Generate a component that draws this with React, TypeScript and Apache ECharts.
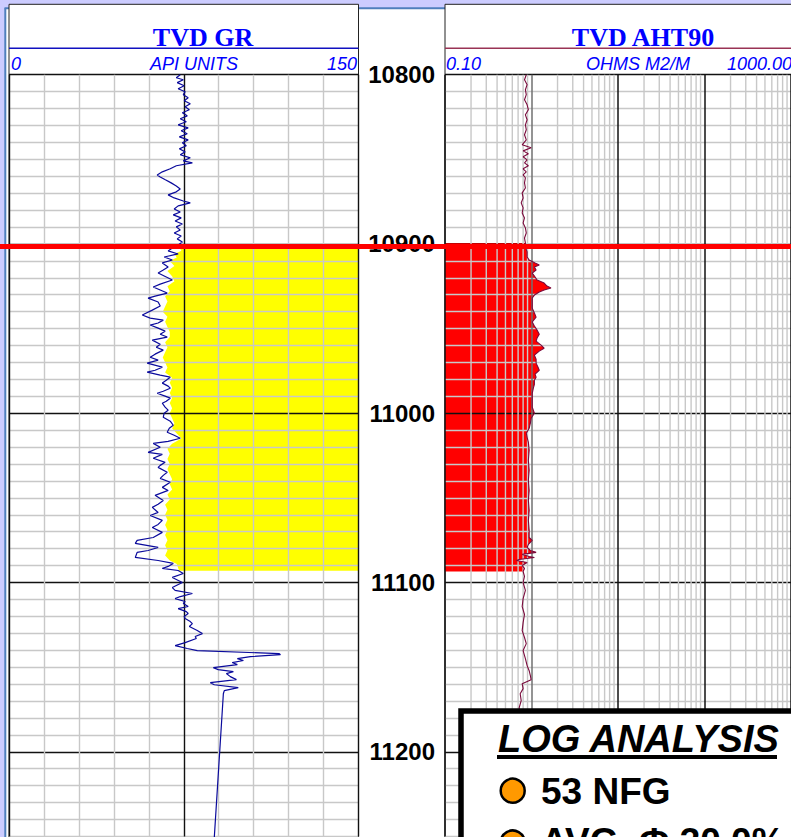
import React, { useEffect, useRef } from 'react';
import * as echarts from 'echarts';

// ---- axes / scales ----
const depthMin = 10800;
const depthMax = 11250;
const depthStep = 10;
const depthLabelEvery = 100;
const grMin = 0;
const grMax = 150;
const grStep = 15;
const rtMin = 0.1;
const rtMax = 1000;
const rtMinorTicks = [
  0.2, 0.3, 0.4, 0.5, 0.6, 0.7, 0.8, 0.9,
  2, 3, 4, 5, 6, 7, 8, 9,
  20, 30, 40, 50, 60, 70, 80, 90,
  200, 300, 400, 500, 600, 700, 800, 900,
];
const redLineDepth = 10901.5;

// ---- header texts ----
const grTitle = 'TVD GR';
const grScale = ['0', 'API UNITS', '150'];
const rtTitle = 'TVD AHT90';
const rtScale = ['0.10', 'OHMS M2/M', '1000.00'];
const boxTitle = 'LOG ANALYSIS';
const boxItems = ['53 NFG', 'AVG. Φ 30.0%'];

// ---- GR curve [depth, API] ----
const grUpper: [number, number][] = [
  [10800.0, 73.5], [10801.8, 71.8], [10803.0, 74.8], [10804.7, 72.2], [10806.5, 75.2], [10808.3, 72.6],
  [10810.1, 75.6], [10811.8, 74.8], [10813.6, 76.9], [10815.4, 75.2], [10817.2, 77.8], [10818.9, 75.6],
  [10820.7, 77.4], [10822.5, 74.4], [10824.3, 76.5], [10826.0, 73.5], [10827.8, 76.1], [10829.6, 72.6],
  [10831.4, 76.9], [10833.1, 73.9], [10834.9, 76.5], [10836.7, 73.1], [10838.5, 76.9], [10840.2, 74.4],
  [10842.0, 76.1], [10843.8, 73.1], [10845.6, 75.6], [10847.3, 73.5], [10849.1, 77.8], [10850.9, 74.8],
  [10852.1, 78.7], [10853.8, 71.8], [10855.6, 69.2], [10857.4, 65.8], [10859.2, 63.6], [10860.4, 64.9],
  [10862.1, 67.1], [10863.9, 69.6], [10865.7, 71.8], [10867.5, 73.5], [10869.2, 71.8], [10871.0, 68.3],
  [10872.8, 70.9], [10874.6, 74.8], [10875.7, 77.8], [10877.5, 72.6], [10879.3, 70.9], [10881.1, 73.5],
  [10882.8, 70.5], [10884.6, 73.9], [10886.4, 71.3], [10888.2, 74.4], [10889.9, 71.8], [10891.7, 73.5],
  [10893.5, 70.9], [10895.3, 73.9], [10897.0, 72.2], [10898.8, 74.4], [10900.6, 72.6],
];
const grSand: [number, number][] = [
  [10902.4, 70.1], [10904.1, 68.3], [10905.9, 72.6], [10907.7, 66.6], [10909.5, 70.1], [10911.2, 65.8],
  [10913.6, 68.3], [10915.4, 66.2], [10917.2, 64.0], [10919.5, 67.5], [10921.3, 70.1], [10923.7, 64.9],
  [10925.4, 61.9], [10927.2, 64.9], [10929.0, 67.9], [10930.8, 62.7], [10932.0, 59.7], [10934.3, 64.0],
  [10936.7, 64.9], [10939.1, 61.5], [10942.0, 57.2], [10943.8, 60.6], [10945.0, 66.2], [10946.7, 64.0],
  [10947.9, 60.6], [10949.7, 64.0], [10951.5, 67.0], [10953.3, 64.9], [10955.0, 67.9], [10956.8, 61.5],
  [10959.2, 64.9], [10961.0, 63.2], [10962.7, 66.2], [10965.1, 62.7], [10966.9, 60.6], [10968.6, 64.0],
  [10970.4, 59.3], [10972.8, 65.8], [10974.6, 62.7], [10975.7, 59.3], [10977.5, 64.9], [10978.7, 69.2],
  [10980.5, 67.5], [10982.2, 65.8], [10984.0, 68.3], [10985.2, 69.2], [10987.0, 66.2], [10988.2, 63.6],
  [10989.9, 67.0], [10991.1, 69.2], [10992.9, 67.5], [10994.1, 65.8], [10996.4, 67.0], [10998.2, 68.3],
  [11000.0, 66.6], [11002.4, 66.2], [11004.7, 69.2], [11007.1, 70.5], [11008.9, 68.8], [11011.2, 67.9],
  [11013.0, 70.9], [11014.8, 73.5], [11016.6, 68.3], [11017.8, 61.9], [11020.1, 64.9], [11023.1, 59.7],
  [11024.3, 65.8], [11026.6, 61.9], [11029.0, 67.0], [11030.8, 64.9], [11032.0, 64.0], [11034.9, 67.9],
  [11036.7, 66.2], [11038.5, 64.9], [11040.8, 69.2], [11043.8, 65.8], [11045.6, 68.3], [11048.5, 62.7],
  [11051.5, 66.2], [11053.8, 64.0], [11055.6, 61.5], [11058.6, 64.0], [11060.4, 60.6], [11063.3, 65.8],
  [11065.7, 64.0], [11067.5, 61.5], [11070.4, 65.8], [11073.4, 61.9], [11075.1, 55.0], [11076.9, 54.2],
  [11079.3, 64.0], [11081.1, 59.7], [11082.2, 55.0], [11085.2, 54.2], [11087.0, 64.0], [11088.7, 70.5],
  [11090.5, 68.3], [11091.7, 65.8], [11092.9, 72.6],
];
const grLower: [number, number][] = [
  [11094.7, 74.8], [11097.0, 70.1], [11100.0, 74.4], [11101.8, 71.8], [11103.0, 70.1], [11104.7, 71.3],
  [11106.5, 78.7], [11108.3, 73.5], [11109.5, 71.3], [11111.2, 75.6], [11112.4, 74.8], [11114.2, 76.9],
  [11115.4, 72.6], [11117.2, 76.1], [11118.3, 76.9], [11120.1, 75.2], [11121.3, 75.6], [11123.1, 77.8],
  [11124.3, 78.7], [11126.0, 77.4], [11128.4, 80.8], [11130.2, 83.0], [11131.9, 79.9], [11133.1, 80.4],
  [11135.5, 75.6], [11137.3, 71.3], [11139.0, 76.5], [11140.2, 80.8], [11142.0, 116.0], [11142.6, 116.5],
  [11143.8, 103.6], [11145.0, 98.0], [11146.1, 100.6], [11147.3, 95.8], [11148.5, 98.0], [11150.3, 87.7],
  [11151.5, 89.8], [11152.7, 96.3], [11153.8, 93.3], [11155.6, 95.0], [11157.4, 97.6], [11159.2, 86.4],
  [11160.4, 88.1], [11162.1, 98.4], [11163.9, 92.4], [11165.7, 92.0], [11250.9, 88.1],
];
// left edge of the yellow sand shading [depth, API]
const sandEdge: [number, number][] = [
  [10900, 75], [10902, 73], [10904, 74], [10906, 71], [10908, 72], [10910, 69], [10913, 71], [10916, 68],
  [10919, 70], [10922, 71], [10925, 68], [10928, 69], [10931, 67], [10934, 68], [10937, 67], [10940, 66],
  [10943, 68], [10946, 67], [10949, 68], [10952, 69], [10955, 69], [10958, 67], [10961, 68], [10964, 67],
  [10967, 66], [10970, 67], [10973, 68], [10976, 67], [10979, 70], [10982, 69], [10985, 70], [10988, 69],
  [10991, 70], [10994, 69], [10997, 70], [11000, 69], [11003, 70], [11006, 71], [11009, 70], [11012, 72],
  [11015, 74], [11018, 70], [11021, 68], [11024, 69], [11027, 68], [11030, 69], [11033, 68], [11036, 69],
  [11039, 70], [11042, 69], [11045, 70], [11048, 68], [11051, 69], [11054, 67], [11057, 68], [11060, 67],
  [11063, 68], [11066, 67], [11069, 68], [11072, 67], [11075, 68], [11078, 67], [11081, 68], [11084, 67],
  [11087, 69], [11089, 72], [11093, 73],
];

// ---- AHT90 resistivity curve [depth, ohm-m] ----
const rtUpper: [number, number][] = [
  [10800.0, 0.87], [10803.0, 0.83], [10805.9, 0.89], [10808.9, 0.85], [10811.8, 0.87], [10814.8, 0.83],
  [10817.8, 0.89], [10820.7, 0.92], [10823.7, 0.85], [10826.6, 0.89], [10829.6, 0.85], [10832.5, 0.87],
  [10835.5, 0.83], [10838.5, 0.87], [10841.4, 0.78], [10843.2, 0.99], [10845.0, 0.80], [10846.7, 0.92],
  [10848.5, 0.80], [10850.3, 0.89], [10852.1, 0.83], [10853.8, 0.92], [10855.6, 0.80], [10857.4, 0.87],
  [10859.2, 0.80], [10860.9, 0.85], [10863.9, 0.83], [10866.9, 0.85], [10869.8, 0.78], [10872.8, 0.80],
  [10875.7, 0.76], [10878.7, 0.80], [10881.7, 0.78], [10884.6, 0.83], [10887.6, 0.80], [10890.5, 0.85],
  [10893.5, 0.87], [10896.5, 0.83], [10899.4, 0.85],
];
const rtPay: [number, number][] = [
  [10901.8, 0.85], [10904.7, 0.89], [10907.7, 0.89], [10909.5, 0.94], [10911.2, 1.10], [10912.4, 1.23],
  [10913.6, 1.08], [10915.4, 1.13], [10917.2, 1.02], [10918.9, 1.08], [10921.3, 1.16], [10923.1, 1.40],
  [10924.9, 1.51], [10926.0, 1.68], [10927.2, 1.40], [10928.4, 1.23], [10930.2, 1.08], [10931.9, 1.02],
  [10934.9, 1.02], [10937.9, 1.02], [10940.8, 1.08], [10943.2, 1.13], [10946.1, 1.02], [10948.5, 1.08],
  [10950.9, 1.16], [10953.3, 1.23], [10955.6, 1.16], [10957.4, 1.13], [10959.8, 1.29], [10961.6, 1.40],
  [10963.3, 1.23], [10965.7, 1.08], [10968.1, 1.13], [10970.4, 1.13], [10972.8, 1.19], [10974.6, 1.23],
  [10976.9, 1.10], [10978.7, 1.13], [10980.5, 1.08], [10982.9, 1.08], [10985.2, 1.05], [10988.2, 1.02],
  [10992.3, 1.02], [10996.4, 1.02], [11000.0, 1.08], [11003.0, 0.99], [11005.9, 0.97], [11008.9, 0.94],
  [11011.8, 0.87], [11014.2, 0.89], [11017.2, 0.92], [11021.9, 0.94], [11027.8, 0.92], [11033.7, 0.94],
  [11039.6, 0.92], [11045.6, 0.94], [11051.5, 0.92], [11057.4, 0.94], [11063.3, 0.92], [11069.2, 0.94],
  [11073.4, 0.94], [11075.1, 1.02], [11077.5, 0.92], [11079.3, 0.89], [11081.1, 0.97], [11082.2, 1.13],
  [11083.4, 0.78], [11084.6, 0.94], [11085.2, 1.08], [11086.4, 0.72], [11087.0, 0.67], [11088.2, 0.89],
  [11090.0, 0.78], [11091.7, 0.83], [11093.5, 0.80],
];
const rtLower: [number, number][] = [
  [11096.4, 0.83], [11100.0, 0.80], [11104.7, 0.85], [11109.5, 0.80], [11114.2, 0.78], [11118.9, 0.83],
  [11123.7, 0.80], [11128.4, 0.78], [11132.5, 0.83], [11136.1, 0.87], [11140.2, 0.80], [11145.0, 0.85],
  [11149.1, 0.89], [11152.1, 0.94], [11155.0, 0.97], [11157.4, 0.99], [11159.8, 0.78], [11162.7, 0.80],
  [11165.7, 0.74], [11169.8, 0.76], [11174.0, 0.72], [11181.7, 0.74],
];

const SANS = '"Liberation Sans", Arial, sans-serif';
const SERIF = '"Liberation Serif", "Times New Roman", serif';
const W = 791;
const H = 837;
const GRID_TOP = 74.7;
const GRID_BOTTOM = 0.6;
const GR_LEFT = 9;
const GR_RIGHT_X = 358.5;
const RT_LEFT = 445;

const gray = '#c8c8c8';
const grVColors = [0, 1, 2, 3, 4, 5, 6, 7, 8, 9, 10].map((i) => (i % 5 === 0 ? '#111' : gray));
const depthColors = [0, 1, 2, 3, 4, 5, 6, 7, 8, 9].map((i) => (i === 0 ? '#111' : gray));
const rtDecadeColors = ['#111', '#707070', '#111', '#111', '#111'];

export default function App() {
  const ref = useRef<HTMLDivElement>(null);
  useEffect(() => {
    document.body.style.margin = '0';
    document.body.style.overflow = 'hidden';
    if (!ref.current) return;
    const chart = echarts.init(ref.current, null, { renderer: 'svg' });

    const grAll = [...grUpper, ...grSand, ...grLower];
    const rtAll = [...rtUpper, ...rtPay, ...rtLower];
    const rtFill = [rtUpper[rtUpper.length - 1], ...rtPay];

    const hideAxis = { axisLine: { show: false }, axisTick: { show: false } };

    const option: any = {
      animation: false,
      grid: [
        { left: GR_LEFT, right: W - GR_RIGHT_X, top: GRID_TOP, bottom: GRID_BOTTOM },
        { left: RT_LEFT, right: -3, top: GRID_TOP, bottom: GRID_BOTTOM },
      ],
      xAxis: [
        {
          type: 'value', gridIndex: 0, min: grMin, max: grMax, interval: grStep, position: 'top', z: 3,
          ...hideAxis, axisLabel: { show: false },
          splitLine: { show: true, lineStyle: { color: grVColors, width: 1.4 } },
        },
        {
          type: 'log', gridIndex: 1, min: rtMin, max: rtMax, logBase: 10, position: 'top', z: 3,
          ...hideAxis, axisLabel: { show: false },
          splitLine: { show: true, lineStyle: { color: rtDecadeColors, width: 1.5 } },
        },
      ],
      yAxis: [
        {
          type: 'value', gridIndex: 0, min: depthMin, max: depthMax, interval: depthStep, inverse: true, z: 3,
          ...hideAxis, axisLabel: { show: false },
          splitLine: { show: true, lineStyle: { color: depthColors, width: 1.4 } },
        },
        {
          type: 'value', gridIndex: 1, min: depthMin, max: depthMax, interval: depthStep, inverse: true, z: 3,
          ...hideAxis,
          axisLabel: {
            show: true, margin: 10, fontSize: 24, fontWeight: 'bold', fontFamily: SANS, color: '#000',
            formatter: (v: number) => (Math.round(v) % depthLabelEvery === 0 ? String(Math.round(v)) : ''),
          },
          splitLine: { show: true, lineStyle: { color: depthColors, width: 1.4 } },
        },
      ],
      series: [
        {
          type: 'custom', name: 'sand', xAxisIndex: 0, yAxisIndex: 0, z: 1, silent: true,
          data: [[grMax, sandEdge[0][0]]],
          renderItem: (params: any, api: any) => {
            const pts = sandEdge.map(([d, v]) => api.coord([v, d]));
            pts.push(api.coord([grMax, sandEdge[sandEdge.length - 1][0]]));
            pts.push(api.coord([grMax, sandEdge[0][0]]));
            return { type: 'polygon', shape: { points: pts }, style: { fill: '#ffff00' } };
          },
        },
        {
          type: 'custom', name: 'payFill', xAxisIndex: 1, yAxisIndex: 1, z: 1, silent: true,
          data: [[rtMin, rtFill[0][0]]],
          renderItem: (params: any, api: any) => {
            const pts = rtFill.map(([d, v]) => api.coord([v, d]));
            pts.push(api.coord([rtMin, rtFill[rtFill.length - 1][0]]));
            pts.push(api.coord([rtMin, rtFill[0][0]]));
            return { type: 'polygon', shape: { points: pts }, style: { fill: '#ff0000' } };
          },
        },
        {
          type: 'custom', name: 'logGrid', xAxisIndex: 1, yAxisIndex: 1, z: 4, silent: true,
          data: rtMinorTicks.map((v) => [v, depthMin]),
          renderItem: (params: any, api: any) => {
            const p = api.coord([api.value(0), depthMin]);
            const cs = params.coordSys;
            return {
              type: 'line',
              shape: { x1: p[0], y1: cs.y, x2: p[0], y2: cs.y + cs.height },
              style: { stroke: gray, lineWidth: 1.4 },
            };
          },
        },
        {
          type: 'line', name: 'GR', xAxisIndex: 0, yAxisIndex: 0, z: 10, silent: true,
          symbol: 'none', data: grAll.map(([d, v]) => [v, d]),
          lineStyle: { color: '#0a0a9c', width: 1.2 },
        },
        {
          type: 'line', name: 'AHT90', xAxisIndex: 1, yAxisIndex: 1, z: 10, silent: true,
          symbol: 'none', data: rtAll.map(([d, v]) => [v, d]),
          lineStyle: { color: '#7a0a3c', width: 1.1 },
        },
      ],
    };
    chart.setOption(option);

    const redY = chart.convertToPixel({ yAxisIndex: 0 }, redLineDepth) as number;
    const blueTxt = '#0000ff';
    const graphic = [
      // page background decorations
      { type: 'rect', z: 0, shape: { x: 0, y: 0, width: W, height: 8 }, style: { fill: '#ccccff' } },
      { type: 'rect', z: 0, shape: { x: 0, y: 0, width: 5, height: H }, style: { fill: '#ccccff' } },
      { type: 'line', z: 0, shape: { x1: 4.5, y1: 8.3, x2: W, y2: 8.3 }, style: { stroke: '#4f7fbd', lineWidth: 2 } },
      { type: 'line', z: 0, shape: { x1: 5.3, y1: 8.3, x2: 5.3, y2: H }, style: { stroke: '#4f7fbd', lineWidth: 2 } },
      // track boxes
      { type: 'rect', z: 0, shape: { x: GR_LEFT, y: 4.3, width: GR_RIGHT_X - GR_LEFT, height: H }, style: { fill: '#fff', stroke: '#222', lineWidth: 1 } },
      { type: 'rect', z: 0, shape: { x: RT_LEFT, y: 4.3, width: 400, height: H }, style: { fill: '#fff', stroke: '#222', lineWidth: 1 } },
      // GR header
      { type: 'text', z: 5, x: 203, y: 37, style: { text: grTitle, fill: blueTxt, font: `bold 26px ${SERIF}`, align: 'center', verticalAlign: 'middle' } },
      { type: 'line', z: 5, shape: { x1: GR_LEFT, y1: 48.3, x2: GR_RIGHT_X, y2: 48.3 }, style: { stroke: '#1010c0', lineWidth: 1.5 } },
      { type: 'text', z: 5, x: 11, y: 64, style: { text: grScale[0], fill: blueTxt, font: `italic 18px ${SANS}`, align: 'left', verticalAlign: 'middle' } },
      { type: 'text', z: 5, x: 194, y: 64, style: { text: grScale[1], fill: blueTxt, font: `italic 18px ${SANS}`, align: 'center', verticalAlign: 'middle' } },
      { type: 'text', z: 5, x: 357, y: 64, style: { text: grScale[2], fill: blueTxt, font: `italic 18px ${SANS}`, align: 'right', verticalAlign: 'middle' } },
      // AHT90 header
      { type: 'text', z: 5, x: 643, y: 37, style: { text: rtTitle, fill: blueTxt, font: `bold 26px ${SERIF}`, align: 'center', verticalAlign: 'middle' } },
      { type: 'line', z: 5, shape: { x1: RT_LEFT, y1: 48.3, x2: W, y2: 48.3 }, style: { stroke: '#993355', lineWidth: 1.5 } },
      { type: 'text', z: 5, x: 446, y: 64, style: { text: rtScale[0], fill: blueTxt, font: `italic 18px ${SANS}`, align: 'left', verticalAlign: 'middle' } },
      { type: 'text', z: 5, x: 638, y: 64, style: { text: rtScale[1], fill: blueTxt, font: `italic 18px ${SANS}`, align: 'center', verticalAlign: 'middle' } },
      { type: 'text', z: 5, x: 727, y: 64, style: { text: rtScale[2], fill: blueTxt, font: `italic 18px ${SANS}`, align: 'left', verticalAlign: 'middle' } },
      // top-of-pay red line
      { type: 'line', z: 50, shape: { x1: 0, y1: redY, x2: W, y2: redY }, style: { stroke: '#ff0000', lineWidth: 5 } },
      // log analysis box
      { type: 'rect', z: 60, shape: { x: 461, y: 711, width: 400, height: 220 }, style: { fill: '#fff', stroke: '#000', lineWidth: 5.5 } },
      { type: 'text', z: 61, x: 498, y: 738.5, style: { text: boxTitle, fill: '#000', font: `italic bold 38px ${SANS}`, align: 'left', verticalAlign: 'middle' } },
      { type: 'line', z: 61, shape: { x1: 497, y1: 757, x2: 777, y2: 757 }, style: { stroke: '#000', lineWidth: 4 } },
      { type: 'circle', z: 61, shape: { cx: 512.7, cy: 790.7, r: 12 }, style: { fill: '#ff9900', stroke: '#000', lineWidth: 2.5 } },
      { type: 'text', z: 61, x: 541, y: 791, style: { text: boxItems[0], fill: '#000', font: `bold 37px ${SANS}`, align: 'left', verticalAlign: 'middle' } },
      { type: 'circle', z: 61, shape: { cx: 512.7, cy: 842.5, r: 12 }, style: { fill: '#ff9900', stroke: '#000', lineWidth: 2.5 } },
      { type: 'text', z: 61, x: 541, y: 841.5, style: { text: boxItems[1], fill: '#000', font: `bold 37px ${SANS}`, align: 'left', verticalAlign: 'middle' } },
    ];
    chart.setOption({ graphic });

    return () => chart.dispose();
  }, []);
  return <div ref={ref} style={{ width: W, height: H, overflow: 'hidden' }} />;
}
